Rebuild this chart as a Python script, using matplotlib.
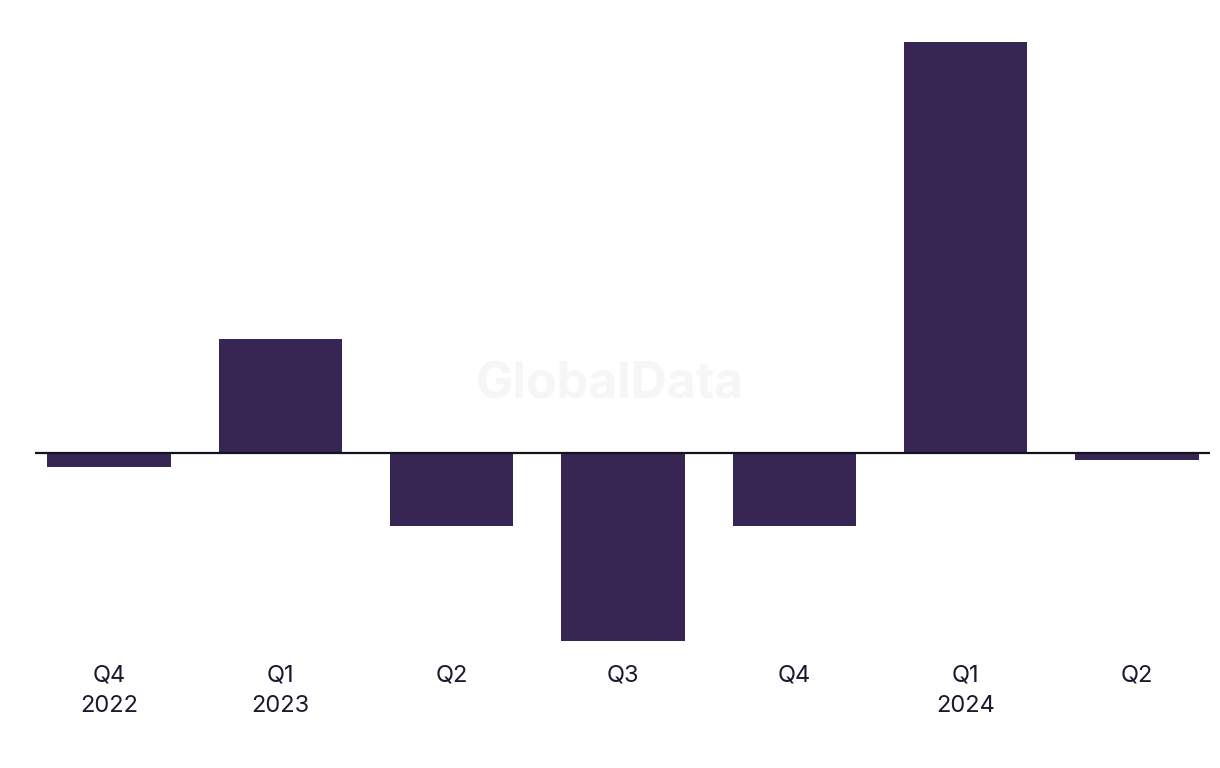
import matplotlib.pyplot as plt

quarters = ['Q4\n2022', 'Q1\n2023', 'Q2', 'Q3', 'Q4', 'Q1\n2024', 'Q2']
values = [-1.4, 11.4, -7.3, -18.8, -7.3, 41.1, -0.7]

bar_color = '#372554'
plt.rcParams['font.family'] = ['Inter', 'DejaVu Sans']


def main():
    fig = plt.figure(figsize=(12.2, 7.68), dpi=100)
    ax = fig.add_axes([35 / 1220, 127 / 768, 1175 / 1220, 599 / 768])

    x = list(range(len(values)))
    ax.bar(x, values, width=0.72, color=bar_color, zorder=2)
    ax.axhline(0, color='#15121f', linewidth=1.6, zorder=3)

    ax.set_xlim(-0.432, 6.427)
    ax.set_ylim(-18.8, 41.1)
    ax.set_xticks(x)
    ax.set_xticklabels(quarters, fontsize=17, color='#1a1a2e', linespacing=1.5)
    ax.tick_params(axis='x', length=0, pad=17)
    ax.set_yticks([])
    for s in ax.spines.values():
        s.set_visible(False)

    # faint watermark
    fig.text(610 / 1220, 1 - 385 / 768, 'GlobalData', fontsize=36, fontweight='bold',
             color='#f6f6f6', ha='center', va='center', zorder=0)

    fig.savefig('out.png', dpi=100)


if __name__ == '__main__':
    main()
